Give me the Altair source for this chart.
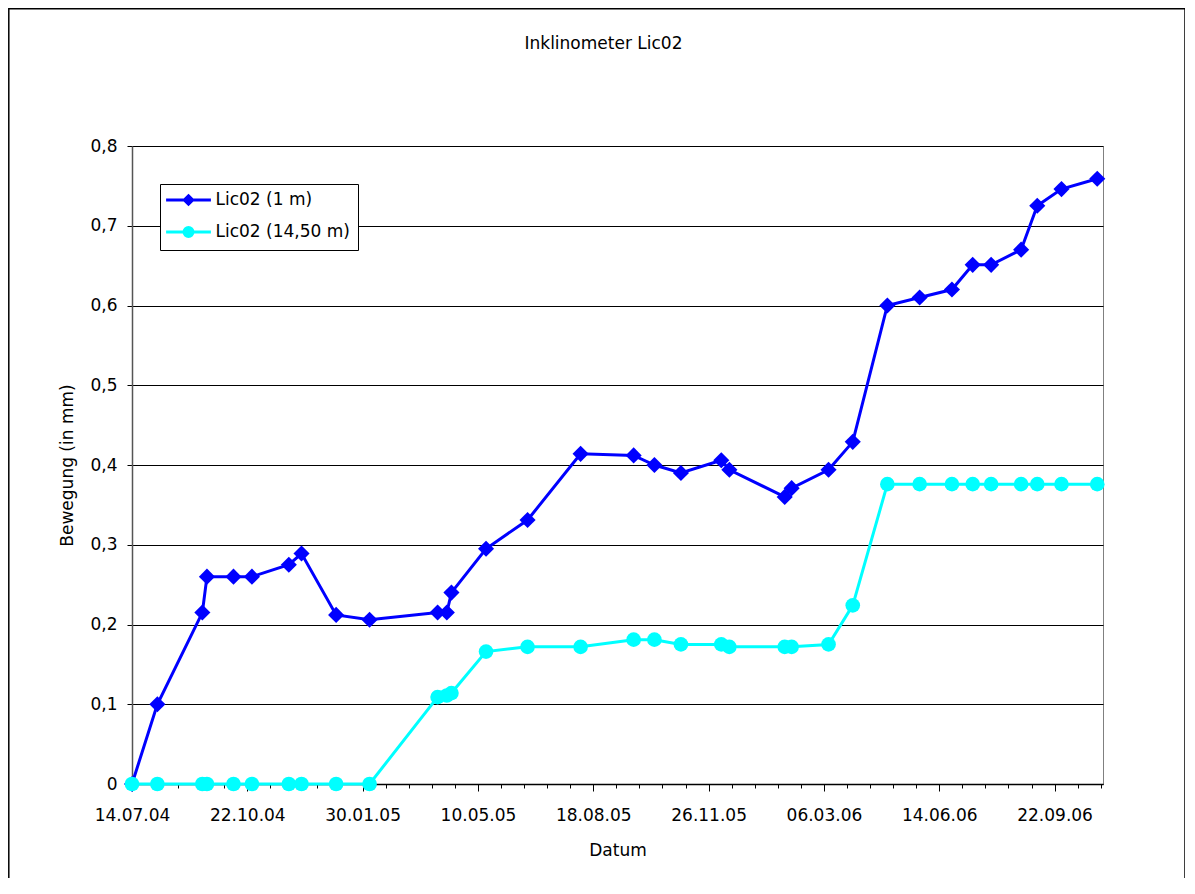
import altair as alt
import pandas as pd

FONT = "DejaVu Sans"

# ---------------- data ----------------
dates = ["2004-07-14", "2004-08-05", "2004-09-13", "2004-09-17", "2004-10-10",
         "2004-10-26", "2004-11-27", "2004-12-08", "2005-01-07", "2005-02-05",
         "2005-04-05", "2005-04-13", "2005-04-17", "2005-05-17", "2005-06-22",
         "2005-08-07", "2005-09-22", "2005-10-10", "2005-11-02", "2005-12-07",
         "2005-12-14", "2006-01-31", "2006-02-06", "2006-03-10", "2006-03-31",
         "2006-04-30", "2006-05-28", "2006-06-25", "2006-07-13", "2006-07-29",
         "2006-08-24", "2006-09-07", "2006-09-28", "2006-10-29"]

lic02_1m = [0.0, 0.100, 0.215, 0.260, 0.260, 0.260, 0.275, 0.289, 0.212, 0.206,
            0.215, 0.215, 0.240, 0.295, 0.331, 0.414, 0.412, 0.400, 0.390, 0.406,
            0.394, 0.360, 0.371, 0.394, 0.429, 0.600, 0.610, 0.620, 0.651, 0.651,
            0.670, 0.725, 0.746, 0.759]

lic02_1450m = [0.0, 0.0, 0.0, 0.0, 0.0, 0.0, 0.0, 0.0, 0.0, 0.0,
               0.109, 0.111, 0.114, 0.166, 0.172, 0.172, 0.181, 0.181, 0.175, 0.175,
               0.172, 0.172, 0.172, 0.175, 0.224, 0.376, 0.376, 0.376, 0.376, 0.376,
               0.376, 0.376, 0.376, 0.376]

series_names = ["Lic02 (1 m)", "Lic02 (14,50 m)"]
x_tick_labels = ["14.07.04", "22.10.04", "30.01.05", "10.05.05", "18.08.05",
                 "26.11.05", "06.03.06", "14.06.06", "22.09.06"]
y_tick_values = [0, 0.1, 0.2, 0.3, 0.4, 0.5, 0.6, 0.7, 0.8]
x_start = "2004-07-14"
x_end = "2006-11-03"

# ---------------- styles ----------------
colors = ["#0000FF", "#00FFFF"]
shapes = ["diamond", "circle"]
sizes = [260, 215]
legend_paths = [
    "M-3.2,0L3.2,0M0,-0.6L0.6,0L0,0.6L-0.6,0Z",
    "M-3.2,0L3.2,0M0.64,0A0.64,0.64,0,1,1,-0.64,0A0.64,0.64,0,1,1,0.64,0Z",
]

df = pd.DataFrame({
    "Datum": dates + dates,
    "Bewegung": lic02_1m + lic02_1450m,
    "Serie": [series_names[0]] * len(dates) + [series_names[1]] * len(dates),
})


def ms(ts):
    return int(pd.Timestamp(ts, tz="UTC").value // 10**6)


t0, t1 = ms(x_start), ms(x_end)
minor_ticks = [ms(d) for d in pd.date_range(x_start, x_end, freq="20D")]
major_ticks = [ms(pd.to_datetime(s, format="%d.%m.%y")) for s in x_tick_labels]
is_major = f"indexof({major_ticks}, +datum.value) >= 0"

x_axis = alt.Axis(
    values=minor_ticks,
    labelExpr=f"({is_major}) ? utcFormat(datum.value, '%d.%m.%y') : ''",
    tickSize={"condition": {"test": is_major, "value": 7}, "value": 4},
    tickColor="black", tickWidth=1,
    domainColor="black", domainWidth=1.5,
    labelFont=FONT, labelFontSize=17, labelColor="black",
    labelPadding=16, labelOverlap=False, labelFlush=False,
    grid=False,
    titleFont=FONT, titleFontSize=17, titleFontWeight="normal", titleColor="black",
    titlePadding=19,
)

y_axis = alt.Axis(
    values=y_tick_values,
    labelExpr="datum.value == 0 ? '0' : replace(format(datum.value, '.1f'), '.', ',')",
    tickSize=5, tickColor="black", tickWidth=1,
    domainColor="#555555", domainWidth=1.5,
    grid=True, gridColor="black", gridWidth=1,
    labelFont=FONT, labelFontSize=17, labelColor="black", labelPadding=10,
    titleFont=FONT, titleFontSize=17, titleFontWeight="normal", titleColor="black",
    titlePadding=13,
)

x_enc = alt.X("Datum:T", scale=alt.Scale(type="utc", domain=[t0, t1]),
              axis=x_axis, title="Datum")
y_enc = alt.Y("Bewegung:Q", scale=alt.Scale(domain=[0, 0.8]),
              axis=y_axis, title="Bewegung (in mm)")

base = alt.Chart(df)

layers = []
# outer chart frame
frame = alt.Chart(alt.Data(values=[{}])).mark_rect(
    filled=False, color="black", strokeWidth=1.5
).encode(x=alt.value(-123.2), x2=alt.value(1053), y=alt.value(-137.2), y2=alt.value(760))
layers.append(frame)

for name, col, shp, sz in zip(series_names, colors, shapes, sizes):
    sub = base.transform_filter(alt.datum.Serie == name)
    layers.append(sub.mark_line(color=col, strokeWidth=3).encode(x=x_enc, y=y_enc))
    layers.append(sub.mark_point(filled=True, color=col, shape=shp, size=sz, opacity=1)
                  .encode(x=x_enc, y=y_enc))

legend = alt.Legend(
    title=None, orient="none", legendX=28, legendY=38, padding=7.5,
    strokeColor="black", fillColor="white",
    labelFont=FONT, labelFontSize=17, labelColor="black",
    symbolSize=196, symbolStrokeWidth=3, symbolOffset=12.5, labelOffset=18.5,
    rowPadding=11, symbolOpacity=1,
)
legend_layer = base.transform_filter("false").mark_point(
    filled=True, opacity=1, size=196, strokeWidth=3
).encode(
    x=x_enc, y=y_enc,
    fill=alt.Fill("Serie:N", scale=alt.Scale(domain=series_names, range=colors), legend=legend),
    stroke=alt.Stroke("Serie:N", scale=alt.Scale(domain=series_names, range=colors), legend=legend),
    shape=alt.Shape("Serie:N", scale=alt.Scale(domain=series_names, range=legend_paths), legend=legend),
)
layers.append(legend_layer)

chart = alt.layer(*layers).properties(
    width=971, height=638,
    title=alt.TitleParams("Inklinometer Lic02", font=FONT, fontSize=17, fontWeight="normal",
                          color="black", anchor="middle", offset=-45, dx=-14),
    autosize=alt.AutoSizeParams(type="none"),
    padding={"left": 124, "top": 138, "right": 82, "bottom": 94},
).configure_view(stroke="#808080", strokeWidth=1)

chart.save("out.html", embed_options={"renderer": "svg", "actions": False})
